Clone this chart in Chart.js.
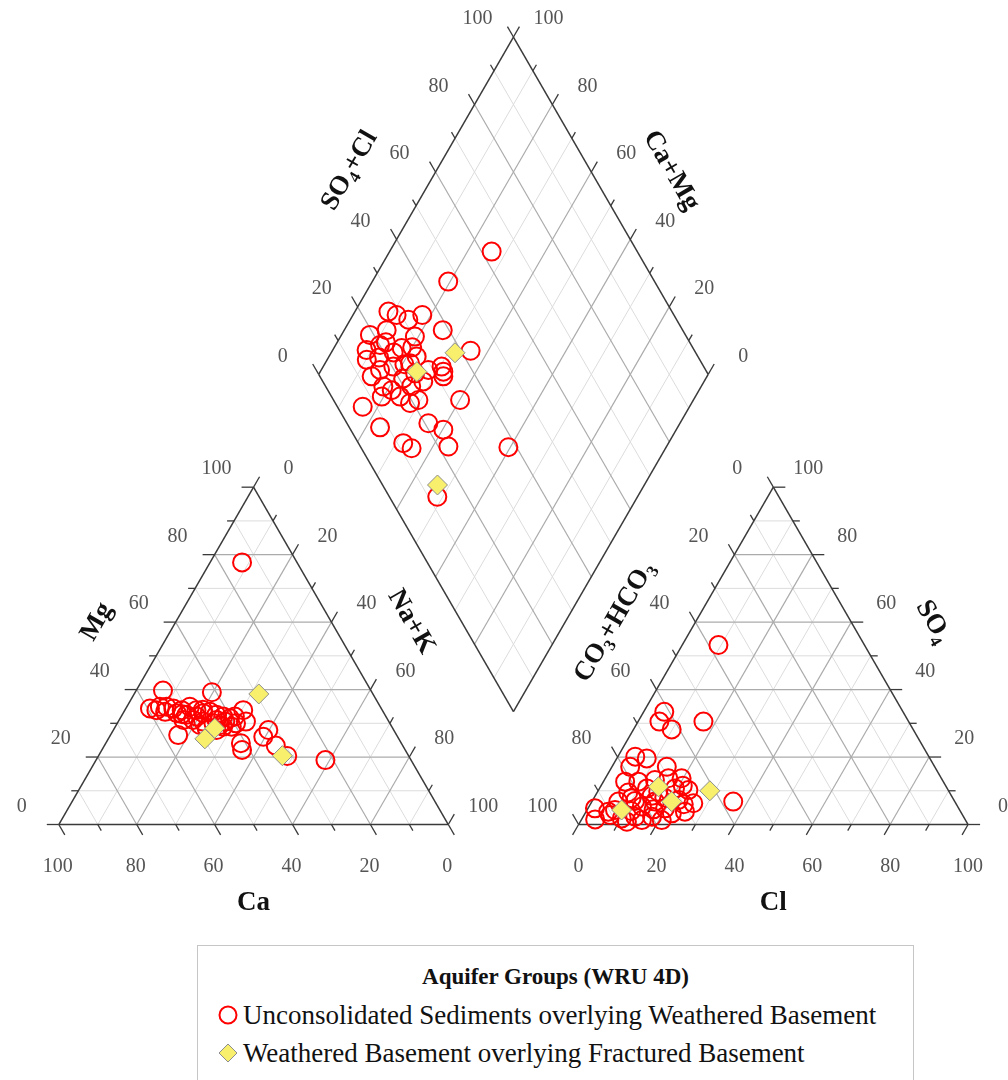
<!DOCTYPE html>
<html><head><meta charset="utf-8">
<script src="https://cdn.jsdelivr.net/npm/chart.js@4.4.1/dist/chart.umd.min.js"></script>
<style>
html,body{margin:0;padding:0;background:#fff;overflow:hidden;}
#wrap{position:relative;width:1008px;height:1080px;overflow:hidden;}
#c{position:absolute;left:0;top:0;}
#legend{position:absolute;left:197px;top:945px;width:717px;height:170px;border:1.5px solid #c6c6c6;box-sizing:border-box;font-family:"Liberation Serif","Times New Roman",serif;color:#111;background:#fff;}
#legend .t{position:absolute;left:0;right:0;top:17px;line-height:28px;text-align:center;font-weight:bold;font-size:23px;}
#legend .row{position:absolute;left:0;height:32px;line-height:32px;font-size:27px;white-space:nowrap;}
#legend .row svg{position:absolute;left:19px;top:5px;}
#legend .row span{position:absolute;left:45px;top:0;}
</style></head>
<body>
<div id="wrap">
<canvas id="c" width="1008" height="1080"></canvas>
<div id="legend">
  <div class="t" id="legTitle"></div>
  <div class="row" style="top:53px"><svg width="22" height="22"><circle cx="11" cy="11" r="8.5" fill="none" stroke="#ff0000" stroke-width="2"/></svg><span id="leg1"></span></div>
  <div class="row" style="top:91px"><svg width="22" height="22"><polygon points="11,2 20,11 11,20 2,11" fill="#f8f06c" stroke="#8c8c8c" stroke-width="1"/></svg><span id="leg2"></span></div>
</div>
</div>
<script>
// ---------------- DATA ----------------
const legendTitle = "Aquifer Groups (WRU 4D)";
const seriesNames = ["Unconsolidated Sediments overlying Weathered Basement", "Weathered Basement overlying Fractured Basement"];
const tickValues = [0, 20, 40, 60, 80, 100];

// Cation triangle: [Ca %, Mg %]  (Na+K = 100 - Ca - Mg)
const usCation = [
  [14.1,77.7],[22.0,19.1],[31.2,20.3],[32.6,23.4],[32.2,28.0],[34.5,26.0],[41.2,24.1],[41.9,22.1],
  [35.7,33.9],[36.7,30.5],[56.1,26.5],[41.1,39.2],[53.4,39.7],
  [59.4,34.4],[58.0,33.9],[56.0,33.4],[54.9,34.9],[53.4,34.4],[51.5,33.9],[53.2,33.0],[51.0,32.5],
  [48.9,34.9],[47.7,33.9],[46.4,33.0],[44.5,33.4],[43.3,32.5],[41.8,32.0],[40.3,31.5],[50.0,31.0],
  [47.7,30.5],[45.3,30.0],[43.9,29.5],[47.8,28.5],[45.5,28.0],[43.3,29.0],[38.8,32.0],[48.6,32.0],
  [56.6,34.9],[52.5,31.0],[41.1,29.0],[46.0,34.0],[44.0,31.0],[42.0,30.5],[49.0,29.5],[52.0,32.7],
  [39.5,30.0]
];
const wbCation = [[29.3,38.7],[49.8,25.4],[32.4,20.4],[45.7,28.5]];

// Anion triangle: [Cl %, SO4 %]  (CO3+HCO3 = 100 - Cl - SO4)
const usAnion = [
  [9.3,53.2],[16.8,30.5],[5.3,33.4],[5.5,30.5],[9.8,28.2],[36.3,6.8],
  [4.5,20.1],[7.7,19.6],[4.7,17.1],[14.1,17.1],[19.6,13.7],[5.6,12.7],[9.0,12.7],[19.4,10.7],
  [23.1,10.2],[26.3,6.3],[1.8,4.8],[5.7,3.8],[6.8,6.8],[9.7,7.8],[13.6,5.3],[16.2,6.8],[19.8,4.8],
  [17.7,2.3],[13.4,2.3],[10.2,1.8],[22.0,7.3],[15.6,9.7],[12.2,10.7],[22.3,3.3],[25.4,3.8],
  [13.0,13.2],[16.2,13.7],[7.2,4.3],[20.7,1.3],[15.6,1.3],[6.7,2.8],
  [11.5,4.0],[14.5,8.5],[18.0,8.0],[21.0,11.5],[8.0,9.5],[24.0,6.0],[11.0,7.0],[17.0,4.5],
  [3.5,1.5],[12.0,0.8]
];
const wbAnion = [[28.7,10.0],[20.5,6.8],[8.9,4.3],[14.9,11.2]];

// Diamond: [Na+K %, SO4+Cl %]
const usDiamond = [
  [26.2,62.6],[19.5,47.0],[35.5,42.5],[25.3,38.4],[17.8,35.4],[40.1,32.5],[59.5,37.9],[48.6,12.3],
  [44.0,22.6],[40.2,23.8],[35.4,20.9],[31.9,11.5],[34.8,12.9],[23.6,7.9],[16.1,6.5],
  [8.6,27.2],[11.2,28.8],[14.9,31.1],[7.3,19.0],[19.1,30.3],[8.7,15.9],[11.4,20.1],[17.4,25.2],
  [10.2,14.5],[15.1,16.4],[18.0,20.3],[21.8,25.1],[24.6,24.9],[27.5,28.8],[30.4,32.7],[32.3,31.7],
  [31.6,32.4],[18.4,14.8],[19.5,12.9],[24.2,17.6],[27.7,19.2],[29.4,21.8],[22.3,21.1],[27.9,25.8],
  [21.1,16.4],[13.9,13.3],[10.9,24.0],[22.5,27.8],[12.5,22.0],[16.0,22.5],[20.5,23.5],[25.5,22.0],
  [13.0,18.0],[20.0,28.0]
];
const wbDiamond = [[31.8,38.2],[46.9,14.1],[24.8,25.6]];

// ---------------- GEOMETRY ----------------
const S3 = Math.sqrt(3) / 2;
const GAP = 33.45;                // gap between the two triangles (side = 100)
const AX = 100 + GAP;             // anion triangle origin
const DL = [50 + GAP / 2, GAP * S3 + 100 * S3]; // diamond left vertex
function cat(naK, mg) { return [naK + mg / 2, mg * S3]; }
function an(cl, so4) { return [AX + cl + so4 / 2, so4 * S3]; }
function dia(naK, s) { return [DL[0] + naK / 2 + s / 2, DL[1] - naK * S3 + s * S3]; }

const PXU = 3.895;
const XMIN = -58.8 / PXU, XMAX = XMIN + 1008 / PXU;
const YMAX = 824.5 / PXU, YMIN = YMAX - 1080 / PXU;

function toPts(arr, fn) { return arr.map(p => { const u = fn(p); return { x: u[0], y: u[1] }; }); }
const usPts = [].concat(
  toPts(usCation, ([ca, mg]) => cat(100 - ca - mg, mg)),
  toPts(usAnion, ([cl, so4]) => an(cl, so4)),
  toPts(usDiamond, ([n, s]) => dia(n, s)));
const wbPts = [].concat(
  toPts(wbCation, ([ca, mg]) => cat(100 - ca - mg, mg)),
  toPts(wbAnion, ([cl, so4]) => an(cl, so4)),
  toPts(wbDiamond, ([n, s]) => dia(n, s)));

document.getElementById('legTitle').textContent = legendTitle;
document.getElementById('leg1').textContent = seriesNames[0];
document.getElementById('leg2').textContent = seriesNames[1];

const FONT = '"Liberation Serif","Times New Roman",serif';
const MINOR = '#dcdcdc', MAJOR = '#ababab', AXIS = '#3a3a3a';

const piperPlugin = {
  id: 'piper',
  beforeDatasetsDraw(chart) {
    const ctx = chart.ctx, xs = chart.scales.x, ys = chart.scales.y;
    const P = u => [xs.getPixelForValue(u[0]), ys.getPixelForValue(u[1])];
    const line = (a, b, col, w) => {
      const p = P(a), q = P(b);
      ctx.strokeStyle = col; ctx.lineWidth = w;
      ctx.beginPath(); ctx.moveTo(p[0], p[1]); ctx.lineTo(q[0], q[1]); ctx.stroke();
    };
    ctx.save();
    ctx.lineCap = 'butt';
    // grids
    for (const pass of [0, 1]) {
      for (let k = 10; k <= 90; k += 10) {
        const major = k % 20 === 0;
        if ((pass === 1) !== major) continue;
        const col = major ? MAJOR : MINOR;
        const w = major ? 1.2 : 1;
        for (const fn of [cat, an]) {
          line(fn(0, k), fn(100 - k, k), col, w);
          line(fn(k, 0), fn(k, 100 - k), col, w);
          line(fn(100 - k, 0), fn(0, 100 - k), col, w);
        }
        line(dia(0, k), dia(100, k), col, w);
        line(dia(k, 0), dia(k, 100), col, w);
      }
    }
    // outlines
    for (const fn of [cat, an]) {
      line(fn(0, 0), fn(100, 0), AXIS, 1.5);
      line(fn(100, 0), fn(0, 100), AXIS, 1.5);
      line(fn(0, 100), fn(0, 0), AXIS, 1.5);
    }
    line(dia(0, 0), dia(100, 0), AXIS, 1.5);
    line(dia(100, 0), dia(100, 100), AXIS, 1.5);
    line(dia(100, 100), dia(0, 100), AXIS, 1.5);
    line(dia(0, 100), dia(0, 0), AXIS, 1.5);
    // ticks + labels
    const axes = [
      { pt: v => cat(100 - v, 0), d: [0.5, S3], off: [-1, 42] },
      { pt: v => cat(0, v), d: [-1, 0], off: [-37, -18] },
      { pt: v => cat(v, 100 - v), d: [0.5, -S3], off: [35, -18] },
      { pt: v => an(v, 0), d: [-0.5, S3], off: [0, 42] },
      { pt: v => an(0, 100 - v), d: [-0.5, -S3], off: [-36, -18] },
      { pt: v => an(100 - v, v), d: [1, 0], off: [35, -18] },
      { pt: v => dia(0, v), d: [-0.5, -S3], off: [-36, -18] },
      { pt: v => dia(100 - v, 100), d: [0.5, -S3], off: [35, -18] }
    ];
    ctx.font = '20px ' + FONT;
    ctx.textAlign = 'center';
    ctx.textBaseline = 'middle';
    for (const a of axes) {
      for (let v = 0; v <= 100; v += 10) {
        const p = P(a.pt(v));
        const len = v % 20 === 0 ? 12 : 7;
        ctx.strokeStyle = AXIS; ctx.lineWidth = 1.3;
        ctx.beginPath(); ctx.moveTo(p[0], p[1]);
        ctx.lineTo(p[0] + a.d[0] * len, p[1] + a.d[1] * len); ctx.stroke();
      }
      ctx.fillStyle = '#555';
      for (const v of tickValues) {
        const p = P(a.pt(v));
        ctx.fillText(String(v), p[0] + a.off[0], p[1] + a.off[1]);
      }
    }
    // axis titles (rich text with subscripts)
    const titles = [
      { segs: [['Ca']], at: cat(50, 0), off: [0, 77], rot: 0 },
      { segs: [['Mg']], at: cat(0, 50), off: [-61, -35], rot: -60 },
      { segs: [['Na+K']], at: cat(50, 50), off: [62, -35], rot: 60 },
      { segs: [['Cl']], at: an(50, 0), off: [0, 77], rot: 0 },
      { segs: [['CO'], ['3', 1], ['+HCO'], ['3', 1]], at: an(0, 50), off: [-63, -35], rot: -60 },
      { segs: [['SO'], ['4', 1]], at: an(50, 50), off: [64, -35], rot: 60 },
      { segs: [['SO'], ['4', 1], ['+Cl']], at: dia(0, 50), off: [-68, -36], rot: -60 },
      { segs: [['Ca+Mg']], at: dia(50, 100), off: [62, -36], rot: 60 }
    ];
    const size = 27, sub = 17;
    ctx.fillStyle = '#111';
    ctx.textAlign = 'left';
    ctx.textBaseline = 'alphabetic';
    for (const t of titles) {
      let w = 0;
      const ws = t.segs.map(s => { ctx.font = 'bold ' + (s[1] ? sub : size) + 'px ' + FONT; const m = ctx.measureText(s[0]).width; w += m; return m; });
      const p = P(t.at);
      ctx.save();
      ctx.translate(p[0] + t.off[0], p[1] + t.off[1]);
      ctx.rotate(t.rot * Math.PI / 180);
      let x = -w / 2;
      t.segs.forEach((s, i) => {
        ctx.font = 'bold ' + (s[1] ? sub : size) + 'px ' + FONT;
        ctx.fillText(s[0], x, size * 0.33 + (s[1] ? 6 : 0));
        x += ws[i];
      });
      ctx.restore();
    }
    ctx.restore();
  }
};

new Chart(document.getElementById('c'), {
  type: 'scatter',
  data: {
    datasets: [
      { label: seriesNames[1], data: wbPts, pointStyle: 'rectRot', pointRadius: 10,
        backgroundColor: '#f8f06c', borderColor: '#8c8c8c', borderWidth: 1 },
      { label: seriesNames[0], data: usPts, pointStyle: 'circle', pointRadius: 9,
        backgroundColor: 'rgba(0,0,0,0)', borderColor: '#ff0000', borderWidth: 2 }
    ]
  },
  options: {
    responsive: false, animation: false, events: [],
    layout: { padding: 0, autoPadding: false },
    plugins: { legend: { display: false }, tooltip: { enabled: false } },
    scales: {
      x: { type: 'linear', min: XMIN, max: XMAX, display: false },
      y: { type: 'linear', min: YMIN, max: YMAX, display: false }
    }
  },
  plugins: [piperPlugin]
});
</script>
</body></html>
